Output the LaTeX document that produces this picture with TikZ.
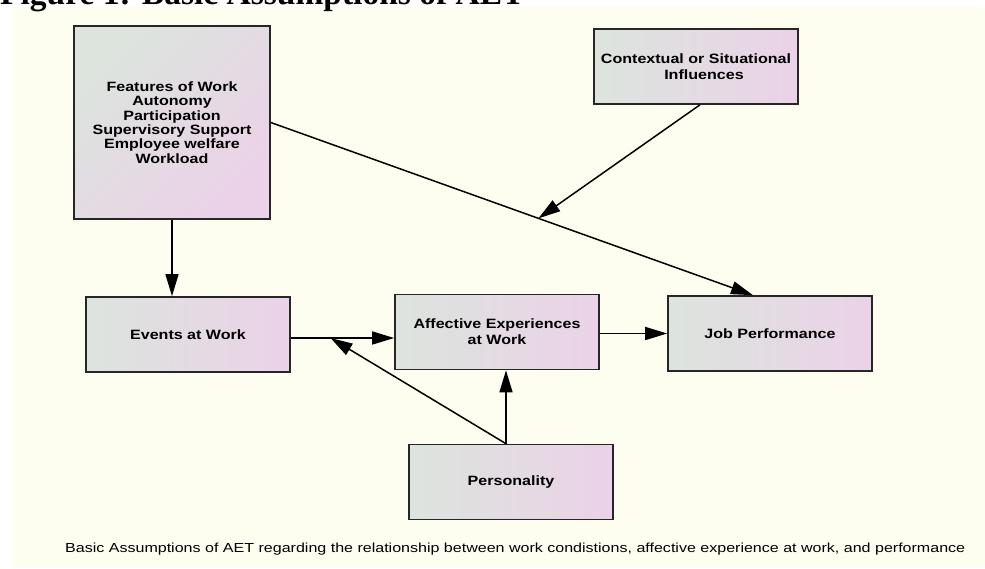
\documentclass[tikz,border=0pt]{standalone}
\usepackage{fontspec}
\usepackage{graphicx}
\usetikzlibrary{arrows.meta}
\setmainfont{Liberation Sans}
\newfontfamily\boxfont{Liberation Sans}[FakeStretch=1.19]
\newfontfamily\headfont{Liberation Serif}
\definecolor{bgcream}{HTML}{FEFEF0}
\definecolor{boxleft}{HTML}{DCE4DD}
\definecolor{boxright}{HTML}{EBD2E8}
\begin{document}
\begin{tikzpicture}[x=1pt,y=-1pt,
  box/.style={draw=black!85, line width=1.6pt, left color=boxleft, right color=boxright,
    minimum width=204pt, minimum height=75pt, align=center, inner sep=0pt,
    font=\boxfont\bfseries\fontsize{13.5}{16}\selectfont},
  arr/.style={line width=1.5pt, -{Triangle[length=22pt,width=13pt]}}]
\useasboundingbox (0,0) rectangle (985,568);
\clip (0,0) rectangle (985,568);
\fill[white] (0,0) rectangle (985,568);
\fill[bgcream] (12,6.5) rectangle (985,568);
\node[anchor=base west, inner sep=0pt, font=\headfont\bfseries\fontsize{33.5}{36}\selectfont] (head) at (0,4) {Figure 1: Basic Assumptions of AET};

\node[box, minimum width=196pt, minimum height=193pt, top color=boxleft, bottom color=boxright, shading angle=45,
  font=\boxfont\bfseries\fontsize{13.5}{14.4}\selectfont] (feat) at (172,122.5)
  {Features of Work\\Autonomy\\Participation\\Supervisory Support\\Employee welfare\\Workload};
\node[box] (ctx) at (696,66.5) {Contextual or Situational\\\hspace*{16pt}Influences};
\node[box] (events) at (188,334.5) {Events at Work};
\node[box] (aff) at (497,332) {Affective Experiences\\at Work};
\node[box] (job) at (770,333.5) {Job Performance};
\node[box] (pers) at (511,482) {Personality};

\draw[arr] (feat.south) -- (feat.south |- events.north);
\path (feat.east) -- ([xshift=-17pt]job.north) coordinate[pos=0.555] (m1);
\draw[arr] (feat.east) -- ([xshift=-17pt]job.north);
\draw[arr] ([xshift=4pt]ctx.south) -- (m1);
\coordinate (e1) at ([yshift=-3.5pt]events.east);
\draw[arr] (e1) -- (e1 -| aff.west);
\path (e1) -- (e1 -| aff.west) coordinate[pos=0.385] (m2);
\draw[arr] ([yshift=-1.5pt]aff.east) -- ([yshift=-1.5pt]aff.east -| job.west);
\coordinate (p1) at ([xshift=-5pt]pers.north);
\draw[arr] (p1) -- (p1 |- aff.south);
\draw[arr] (p1) -- (m2);

\node[anchor=base west, inner sep=0pt] (cap) at (65,552) {\resizebox{900pt}{9.5pt}{Basic Assumptions of AET regarding the relationship between work condistions, affective experience at work, and performance}};
\end{tikzpicture}
\end{document}
